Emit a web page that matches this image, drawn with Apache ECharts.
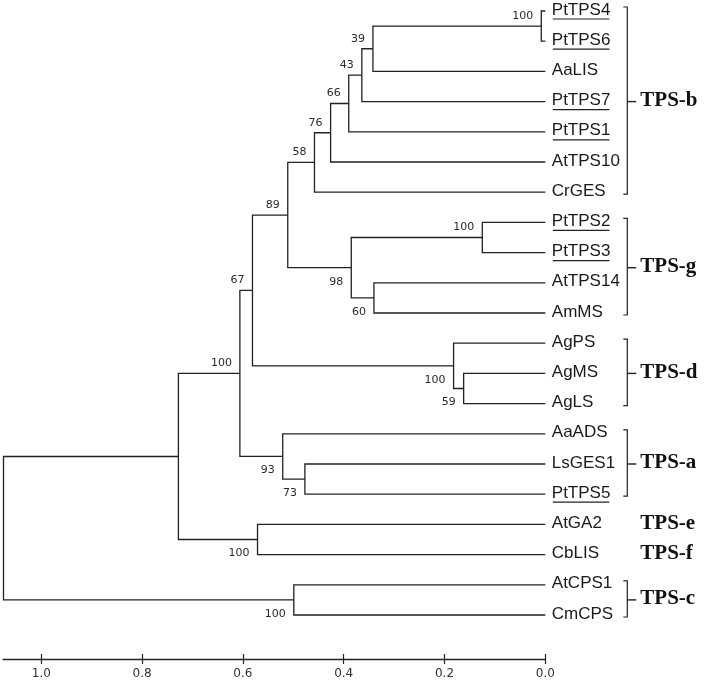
<!DOCTYPE html>
<html><head><meta charset="utf-8">
<script src="https://cdn.jsdelivr.net/npm/echarts@6/dist/echarts.min.js"></script>
<style>html,body{margin:0;padding:0;background:#fff}#c{width:704px;height:683px}</style>
</head><body><div id="c"></div>
<script>
// ---- Data ----
const leafNames = ['PtTPS4','PtTPS6','AaLIS','PtTPS7','PtTPS1','AtTPS10','CrGES','PtTPS2','PtTPS3','AtTPS14','AmMS','AgPS','AgMS','AgLS','AaADS','LsGES1','PtTPS5','AtGA2','CbLIS','AtCPS1','CmCPS'];
const underlinedLeaves = ['PtTPS4','PtTPS6','PtTPS7','PtTPS1','PtTPS2','PtTPS3','PtTPS5'];
// internal nodes (children: leaf index number or internal node id)
const nodeIds      = ['n0','n1','n2','n3','n4','n5','n6','n7','n8','n9','n10','n11','n12','n13','n14','n15','n16','n17','n18','n19'];
const nodeChildren = [[0,1],['n0',2],['n1',3],['n2',4],['n3',5],['n4',6],[7,8],[9,10],['n6','n7'],['n5','n8'],[12,13],[11,'n10'],['n9','n11'],[15,16],[14,'n13'],['n12','n14'],[17,18],['n15','n16'],[19,20],['n17','n18']];
const nodeHeights  = [0.008,0.342,0.364,0.390,0.426,0.458,0.125,0.340,0.385,0.511,0.162,0.182,0.581,0.477,0.521,0.606,0.571,0.728,0.499,1.075];
const nodeSupport  = [100,39,43,66,76,58,100,60,98,89,59,100,67,73,93,100,100,null,100,null];
const supportSide  = ['up','up','up','up','up','up','up','down','down','up','down','down','up','down','down','up','down','up','down','up'];
const groupNames = ['TPS-b','TPS-g','TPS-d','TPS-a','TPS-e','TPS-f','TPS-c'];
const groupFirst = [0,7,11,14,17,18,19];
const groupLast  = [6,10,13,16,17,18,20];
const xTicks = [0,0.2,0.4,0.6,0.8,1.0];

// ---- layout helpers ----
const nodeIndex = {}; nodeIds.forEach((id,i)=>nodeIndex[id]=i);
const nodeY = new Array(nodeIds.length);
function childPos(c){
  if (typeof c === 'number') return [0, c];
  const i = nodeIndex[c];
  return [nodeHeights[i], getY(i)];
}
function getY(i){
  if (nodeY[i] === undefined){
    const a = childPos(nodeChildren[i][0]), b = childPos(nodeChildren[i][1]);
    nodeY[i] = (a[1] + b[1]) / 2;
  }
  return nodeY[i];
}
nodeIds.forEach((_,i)=>getY(i));

const measureCtx = document.createElement('canvas').getContext('2d');
const LEAF_FONT = '17px "Liberation Sans", Arial, sans-serif';
measureCtx.font = LEAF_FONT;

const LINE = '#222';
const chart = echarts.init(document.getElementById('c'), null, {renderer:'canvas'});

const axisBase = {
  type:'value', min:0, max:1.076, inverse:true, position:'bottom', offset:44, gridIndex:0,
  interval:0.2, splitLine:{show:false}
};
const fmt = v => (Math.abs(v*5 - Math.round(v*5)) < 1e-6 && v <= 1.0001) ? v.toFixed(1) : '';

chart.setOption({
  animation:false,
  backgroundColor:'#fff',
  grid:{left:3, right:158.7, top:11, bottom:68, containLabel:false, outerBoundsMode:'none'},
  xAxis:[
    Object.assign({}, axisBase, {
      axisLine:{show:true, onZero:false, lineStyle:{color:'#222', width:1.3}},
      axisTick:{show:true, inside:false, length:5, customValues:xTicks, lineStyle:{color:'#222', width:1.2}},
      axisLabel:{show:true, customValues:xTicks, formatter:fmt, fontFamily:'"DejaVu Sans", Verdana, sans-serif', fontSize:12, color:'#333', margin:9}
    }),
    Object.assign({}, axisBase, {
      axisLine:{show:false, onZero:false},
      axisTick:{show:true, inside:true, length:5, customValues:xTicks, lineStyle:{color:'#222', width:1.2}},
      axisLabel:{show:false}
    })
  ],
  yAxis:{type:'value', min:0, max:20, inverse:true, show:false, axisLine:{onZero:false}},
  series:[
    { // branches
      type:'custom', xAxisIndex:0, yAxisIndex:0, clip:false,
      data: nodeIds.map((id,i)=>[nodeHeights[i], nodeY[i], i]),
      renderItem:(params, api)=>{
        const i = api.value(2);
        const h = nodeHeights[i];
        const a = childPos(nodeChildren[i][0]), b = childPos(nodeChildren[i][1]);
        const pts = [api.coord([a[0],a[1]]), api.coord([h,a[1]]), api.coord([h,b[1]]), api.coord([b[0],b[1]])];
        return {type:'polyline', shape:{points:pts}, style:{stroke:LINE, lineWidth:1.3, fill:null}};
      }
    },
    { // bootstrap labels
      type:'custom', xAxisIndex:0, yAxisIndex:0, clip:false,
      data: nodeIds.map((id,i)=>[nodeHeights[i], nodeY[i], i]).filter(d=>nodeSupport[d[2]]!==null),
      renderItem:(params, api)=>{
        const i = api.value(2);
        const p = api.coord([nodeHeights[i], nodeY[i]]);
        const up = supportSide[i]==='up';
        return {type:'text', x:p[0]-8, y: up ? p[1]-10 : p[1]+14,
          style:{text:String(nodeSupport[i]), align:'right', verticalAlign:'middle',
            font:'11px "DejaVu Sans", Verdana, sans-serif', fill:'#2a2a2a'}};
      }
    },
    { // leaf labels
      type:'custom', xAxisIndex:0, yAxisIndex:0, clip:false,
      data: leafNames.map((n,i)=>[0,i,i]),
      renderItem:(params, api)=>{
        const i = api.value(2);
        const name = leafNames[i];
        const p = api.coord([0,i]);
        const tx = p[0]+6.5;
        const children = [{type:'text', x:tx, y:p[1]-1,
          style:{text:name, align:'left', verticalAlign:'middle', font:LEAF_FONT, fill:'#1a1a1a'}}];
        if (underlinedLeaves.indexOf(name) >= 0){
          const w = measureCtx.measureText(name).width;
          children.push({type:'line', shape:{x1:tx+1, y1:p[1]+8, x2:tx+w-1, y2:p[1]+8}, style:{stroke:'#222', lineWidth:1.2}});
        }
        return {type:'group', children};
      }
    },
    { // group brackets
      type:'custom', xAxisIndex:0, yAxisIndex:0, clip:false,
      data: groupNames.map((g,i)=>[0,(groupFirst[i]+groupLast[i])/2,i]),
      renderItem:(params, api)=>{
        const i = api.value(2);
        const p0 = api.coord([0, groupFirst[i]]);
        const p1 = api.coord([0, groupLast[i]]);
        const pm = api.coord([0, (groupFirst[i]+groupLast[i])/2]);
        const bx = p0[0] + 82;
        const children = [];
        if (groupFirst[i] !== groupLast[i]){
          children.push({type:'polyline', shape:{points:[[bx-4,p0[1]-4],[bx,p0[1]-4],[bx,p1[1]+2],[bx-4,p1[1]+2]]}, style:{stroke:LINE, lineWidth:1.2, fill:null}});
          children.push({type:'line', shape:{x1:bx, y1:pm[1], x2:bx+9, y2:pm[1]}, style:{stroke:LINE, lineWidth:1.4}});
        }
        children.push({type:'text', x:bx+13, y:pm[1]-1,
          style:{text:groupNames[i], align:'left', verticalAlign:'middle', font:'bold 21px "Liberation Serif", "Times New Roman", serif', fill:'#111'}});
        return {type:'group', children};
      }
    }
  ]
});
</script>
</body></html>
